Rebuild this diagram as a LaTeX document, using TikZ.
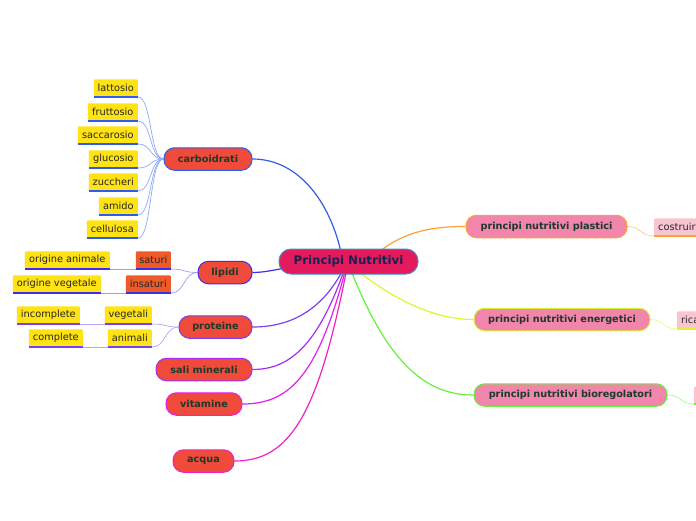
\documentclass[tikz,border=0pt]{standalone}
\usepackage{fontspec}
\setmainfont{DejaVu Sans}
\usetikzlibrary{backgrounds}
\definecolor{rootfill}{HTML}{E31A5E}
\definecolor{rootdraw}{HTML}{3A90C8}
\definecolor{roottext}{HTML}{1A1F4E}
\definecolor{redfill}{HTML}{F04A3A}
\definecolor{maintext}{HTML}{1B3A2C}
\definecolor{pinkfill}{HTML}{F285AC}
\definecolor{yellowfill}{HTML}{FFE314}
\definecolor{orangefill}{HTML}{EE5A28}
\definecolor{lightpink}{HTML}{F9C5D1}
\definecolor{cblue}{HTML}{2F5BF0}
\definecolor{clblue}{HTML}{8CA9F8}
\definecolor{clip}{HTML}{3C2EEE}
\definecolor{cllip}{HTML}{A19BF6}
\definecolor{cpro}{HTML}{7B3FF2}
\definecolor{clpro}{HTML}{B9A2F8}
\definecolor{csali}{HTML}{A62EF0}
\definecolor{cvit}{HTML}{E020F0}
\definecolor{cacq}{HTML}{F020C8}
\definecolor{cpla}{HTML}{FFA030}
\definecolor{clpla}{HTML}{FFCB8A}
\definecolor{cene}{HTML}{DDF530}
\definecolor{clene}{HTML}{EAF98A}
\definecolor{cbio}{HTML}{66F23A}
\definecolor{clbio}{HTML}{A8F890}
\tikzset{
  rootbox/.style={draw=rootdraw, line width=1pt, fill=rootfill, rounded corners=12pt,
    minimum width=139pt, minimum height=25pt, inner sep=0pt,
    font=\fontsize{11.8}{13}\selectfont\bfseries, text=roottext},
  mainbox/.style={draw=#1, line width=1pt, fill=redfill, rounded corners=10.5pt,
    minimum height=22.5pt, inner sep=0pt,
    font=\fontsize{9.7}{11}\selectfont\bfseries, text=maintext},
  rightbox/.style={draw=#1, line width=1pt, fill=pinkfill, rounded corners=10.5pt,
    minimum height=22.5pt, inner sep=0pt,
    font=\fontsize{9.7}{11}\selectfont\bfseries, text=maintext},
  leafbox/.style={fill=#1, rounded corners=1pt, minimum height=17.5pt, inner sep=0pt,
    font=\fontsize{9.8}{11}\selectfont, text=black!85},
  wire/.style={draw=#1, line width=1.2pt},
  thinwire/.style={draw=#1, line width=0.7pt},
  uline/.style={draw=#1, line width=1.6pt},
}
\begin{document}
\begin{tikzpicture}[x=1pt,y=-1pt]
\useasboundingbox (0,0) rectangle (696,520);

% root
\node[rootbox] (root) at (348.5,261.5) {Principi Nutritivi};

% main left
\node[mainbox=cblue, minimum width=88pt] (carb) at (208,159) {carboidrati};
\node[mainbox=clip, minimum width=54pt] (lip) at (225,272.5) {lipidi};
\node[mainbox=cpro, minimum width=73pt] (pro) at (215.5,327) {proteine};
\node[mainbox=csali, minimum width=96pt] (sali) at (204,369.5) {sali minerali};
\node[mainbox=cvit, minimum width=76pt] (vit) at (204,404) {vitamine};
\node[mainbox=cacq, minimum width=61pt] (acq) at (203.5,461) {acqua};

% main right
\node[rightbox=cpla, minimum width=161pt] (pla) at (546.5,226.5) {principi nutritivi plastici};
\node[rightbox=cene, minimum width=176pt] (ene) at (562,319.5) {principi nutritivi energetici};
\node[rightbox=cbio, minimum width=193pt] (bio) at (570.5,395) {principi nutritivi bioregolatori};

% carboidrati leaves
\node[leafbox=yellowfill, minimum width=44pt, anchor=south east] (l1) at (138,97) {lattosio};
\node[leafbox=yellowfill, minimum width=50pt, anchor=south east] (l2) at (138,121) {fruttosio};
\node[leafbox=yellowfill, minimum width=60pt, anchor=south east] (l3) at (138,144) {saccarosio};
\node[leafbox=yellowfill, minimum width=49pt, anchor=south east] (l4) at (138,168) {glucosio};
\node[leafbox=yellowfill, minimum width=49pt, anchor=south east] (l5) at (138,191) {zuccheri};
\node[leafbox=yellowfill, minimum width=39pt, anchor=south east] (l6) at (138,215) {amido};
\node[leafbox=yellowfill, minimum width=51pt, anchor=south east] (l7) at (138,238) {cellulosa};

% lipidi children
\node[leafbox=orangefill, minimum width=35pt, anchor=south east] (sat) at (171,269) {saturi};
\node[leafbox=orangefill, minimum width=45pt, anchor=south east] (ins) at (171,293) {insaturi};
\node[leafbox=yellowfill, minimum width=85pt, anchor=south east] (oa) at (110,269) {origine animale};
\node[leafbox=yellowfill, minimum width=88pt, anchor=south east] (ov) at (101,293) {origine vegetale};

% proteine children
\node[leafbox=yellowfill, minimum width=47pt, anchor=south east] (veg) at (152,324) {vegetali};
\node[leafbox=yellowfill, minimum width=44pt, anchor=south east] (ani) at (152,347) {animali};
\node[leafbox=yellowfill, minimum width=63pt, anchor=south east] (inc) at (80,324) {incomplete};
\node[leafbox=yellowfill, minimum width=54pt, anchor=south east] (com) at (83,347) {complete};

% right children (cut by the page edge)
\node[leafbox=lightpink, text width=80pt, align=left, inner xsep=4pt, anchor=south west] (cos) at (654,236) {costruir};
\node[leafbox=lightpink, text width=60pt, align=left, inner xsep=4pt, anchor=south west] (ric) at (677,329) {rica};
\node[leafbox=lightpink, minimum width=40pt, anchor=south west] (bch) at (694,404) {};

% anchors inside root for connectors
\coordinate (rtop) at (343,262);
\coordinate (rtopr) at (372,258);
\coordinate (rleft) at (300,266);
\coordinate (rb1) at (344,268);
\coordinate (rb2) at (345,268);
\coordinate (rb3) at (346,268);
\coordinate (rb4) at (347,268);
\coordinate (rb5) at (350,268);
\coordinate (rb6) at (354,268);

\begin{scope}[on background layer]
  % main connectors
  \draw[wire=cblue] (rtop) .. controls (333,205) and (300,159) .. (carb.east);
  \draw[wire=clip] (rleft) .. controls (280,268) and (268,272.5) .. (lip.east);
  \draw[wire=cpro] (rb1) .. controls (320,315) and (285,327) .. (pro.east);
  \draw[wire=csali] (rb2) .. controls (318,345) and (290,369.5) .. (sali.east);
  \draw[wire=cvit] (rb3) .. controls (318,375) and (290,404) .. (vit.east);
  \draw[wire=cacq] (rb4) .. controls (318,415) and (290,461) .. (acq.east);
  \draw[wire=cpla] (rtopr) .. controls (400,232) and (430,226.5) .. (pla.west);
  \draw[wire=cene] (rb6) .. controls (400,305) and (440,319.5) .. (ene.west);
  \draw[wire=cbio] (rb5) .. controls (390,370) and (430,395) .. (bio.west);

  % carboidrati leaves
  \foreach \l in {l1,l2,l3,l4,l5,l6,l7}{
    \draw[thinwire=clblue] (carb.west) .. controls +(-14,0) and +(14,0) .. (\l.south east);
  }
  % lipidi
  \draw[thinwire=cllip] (lip.west) .. controls +(-14,0) and +(14,0) .. (sat.south east);
  \draw[thinwire=cllip] (lip.west) .. controls +(-14,0) and +(14,0) .. (ins.south east);
  \draw[thinwire=cllip] (sat.south west) .. controls +(-12,0) and +(12,0) .. (oa.south east);
  \draw[thinwire=cllip] (ins.south west) .. controls +(-12,0) and +(12,0) .. (ov.south east);
  % proteine
  \draw[thinwire=clpro] (pro.west) .. controls +(-14,0) and +(14,0) .. (veg.south east);
  \draw[thinwire=clpro] (pro.west) .. controls +(-14,0) and +(14,0) .. (ani.south east);
  \draw[thinwire=clpro] (veg.south west) .. controls +(-12,0) and +(12,0) .. (inc.south east);
  \draw[thinwire=clpro] (ani.south west) .. controls +(-12,0) and +(12,0) .. (com.south east);
  % right
  \draw[thinwire=clpla] (pla.east) .. controls +(14,0) and +(-14,0) .. (cos.south west);
  \draw[thinwire=clene] (ene.east) .. controls +(14,0) and +(-14,0) .. (ric.south west);
  \draw[thinwire=clbio] (bio.east) .. controls +(14,0) and +(-14,0) .. (bch.south west);
\end{scope}

% underlines
\foreach \l in {l1,l2,l3,l4,l5,l6,l7}{
  \draw[uline=cblue] (\l.south west) -- (\l.south east);
}
\foreach \l in {sat,ins,oa,ov}{
  \draw[uline=clip] (\l.south west) -- (\l.south east);
}
\foreach \l in {veg,ani,inc,com}{
  \draw[uline=cpro] (\l.south west) -- (\l.south east);
}
\draw[uline=cpla] (cos.south west) -- (cos.south east);
\draw[uline=cene] (ric.south west) -- (ric.south east);
\draw[uline=cbio] (bch.south west) -- (bch.south east);
\end{tikzpicture}
\end{document}
